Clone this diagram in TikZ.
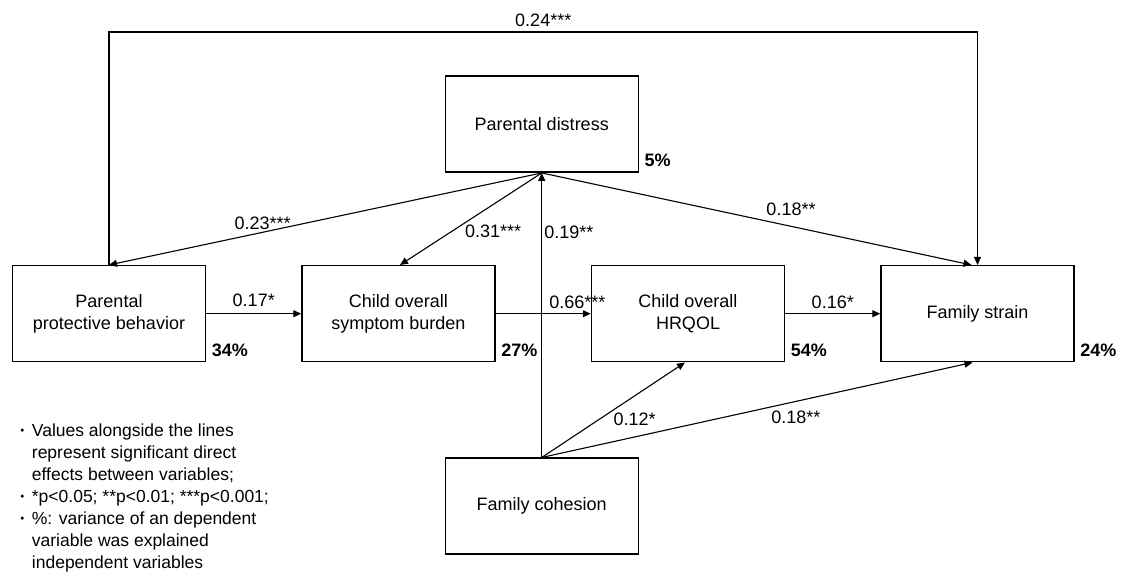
\documentclass[tikz,border=0pt]{standalone}
\usepackage{fontspec}
\setmainfont{Liberation Sans}
\usepackage{tikz}
\usetikzlibrary{positioning, arrows.meta}
\tikzstyle{block} = [rectangle, minimum width=193pt, minimum height=96pt, text centered, align=center, draw=black, line width=1.5pt, font=\fontsize{18}{22.5}\selectfont]
\tikzstyle{coef} = [font=\fontsize{18}{22}\selectfont, inner sep=2pt]
\tikzstyle{pct} = [font=\bfseries\fontsize{18}{22}\selectfont]
\tikzstyle{note} = [font=\fontsize{17.5}{22}\selectfont, align=left]
\tikzstyle{arrow} = [line width=1.1pt,-{Triangle[length=8pt,width=7pt]}]
\newcommand{\notebullet}{\raisebox{0.55ex}{\tikz\fill (0,0) circle (1.7pt);}}

\begin{document}
\begin{tikzpicture}[x=1pt, y=-1pt]

\useasboundingbox (0,0) rectangle (1129,579);

\node (PPB) [block] at (109,313.7) {Parental\\protective behavior};
\node (CSB) [block, right=95pt of PPB] {Child overall\\symptom burden};
\node (HRQOL) [block, right=95pt of CSB] {Child overall\\HRQOL};
\node (FS) [block, right=95pt of HRQOL] {Family strain};

\node (PD) [block, above=92pt of CSB.north east, xshift=46pt] {Parental distress};
\node (FC) [block, below=95pt of CSB.south east, xshift=46pt] {Family cohesion};

% explained variance
\node (vPD) [pct, right=2pt of PD.south east, yshift=12.5pt] {5\%};
\node (vPPB) [pct, right=2pt of PPB.south east, yshift=12.5pt] {34\%};
\node (vCSB) [pct, right=2pt of CSB.south east, yshift=12.5pt] {27\%};
\node (vHRQOL) [pct, right=2pt of HRQOL.south east, yshift=12.5pt] {54\%};
\node (vFS) [pct, right=2pt of FS.south east, yshift=12.5pt] {24\%};

\draw [arrow] (PPB.north) -- ++(0,-233) -| node[coef, above, pos=0.25, yshift=3pt] {0.24***} (FS.north);

\draw [arrow] (PD.south) -- node[coef, above, pos=0.645] {0.23***} (PPB.north);
\draw [arrow] (PD.south) -- node[coef, right, pos=0.63, xshift=10pt] {0.31***} ([xshift=1.5pt]CSB.north);
\draw [arrow] (PD.south) -- node[coef, above, pos=0.58, yshift=8pt] {0.18**} ([xshift=-6pt]FS.north);

\draw [arrow] (PPB) -- node[coef, above, yshift=4pt] {0.17*} (CSB);
\draw [arrow] (CSB) -- node[coef, above, pos=0.86, yshift=2pt] {0.66***} (HRQOL);
\draw [arrow] (HRQOL) -- node[coef, above, yshift=2pt] {0.16*} (FS);

\draw [arrow] (FC.north) -- node[coef, right, pos=0.79] {0.19**} (PD.south);
\draw [arrow] (FC.north) -- node[coef, right, pos=0.4, xshift=12pt] {0.12*} ([xshift=-3pt]HRQOL.south);
\draw [arrow] (FC.north) -- node[coef, below, pos=0.59, yshift=-7pt] {0.18**} ([xshift=-5pt]FS.south);

\node (notes) [note, anchor=north west] at (17,418) {\begin{tabular}{@{}l@{\hspace{8pt}}l@{}}
\notebullet & Values alongside the lines\\
 & represent significant direct\\
 & effects between variables;\\
\notebullet & *p<0.05; **p<0.01; ***p<0.001;\\
\notebullet & \%: variance of an dependent\\
 & variable was explained\\
 & independent variables
\end{tabular}};

\end{tikzpicture}
\end{document}
